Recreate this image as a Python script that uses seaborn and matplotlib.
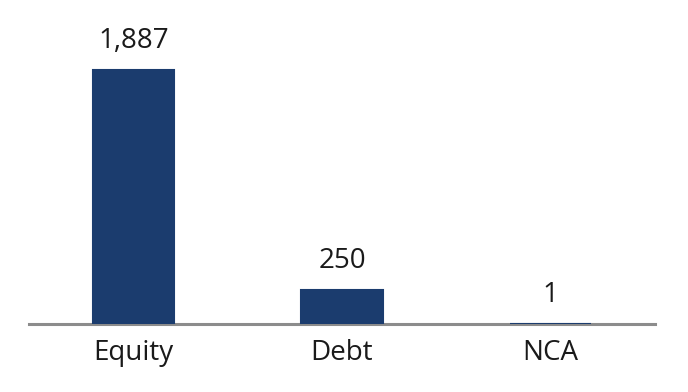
import matplotlib
matplotlib.use("Agg")
import matplotlib.pyplot as plt
import seaborn as sns
import pandas as pd

categories = ["Equity", "Debt", "NCA"]
values = [1887, 250, 1]
value_labels = ["1,887", "250", "1"]

sns.set_theme(style="white")
plt.rcParams['font.family'] = ['Open Sans', 'DejaVu Sans']

df = pd.DataFrame({"cat": categories, "val": values})

fig = plt.figure(figsize=(6.88, 3.92), dpi=100)
ax = fig.add_axes([29/688, 1 - 324/392, (655 - 29)/688, (324 - 20)/392])

sns.barplot(data=df, x="cat", y="val", color="#1b3c6e", width=0.39, ax=ax,
            saturation=1, edgecolor="#1b3c6e", linewidth=1.5)

ax.set_xlim(-0.5, 2.5)
ax.set_ylim(0, 1887 * 304 / 254)

for i, (v, lab) in enumerate(zip(values, value_labels)):
    ax.annotate(lab, (i, v), xytext=(0, 11), textcoords="offset points",
                ha="center", va="bottom", fontsize=20, color="#1a1a1a")

for s in ["top", "right", "left"]:
    ax.spines[s].set_visible(False)
ax.spines["bottom"].set_color("#8c8c8c")
ax.spines["bottom"].set_linewidth(2.2)
ax.spines["bottom"].set_zorder(0)
ax.set_yticks([])
ax.tick_params(axis="x", length=0, pad=11, labelsize=20, labelcolor="#1a1a1a")
ax.set_xlabel("")
ax.set_ylabel("")

fig.savefig("out.png", dpi=100)
